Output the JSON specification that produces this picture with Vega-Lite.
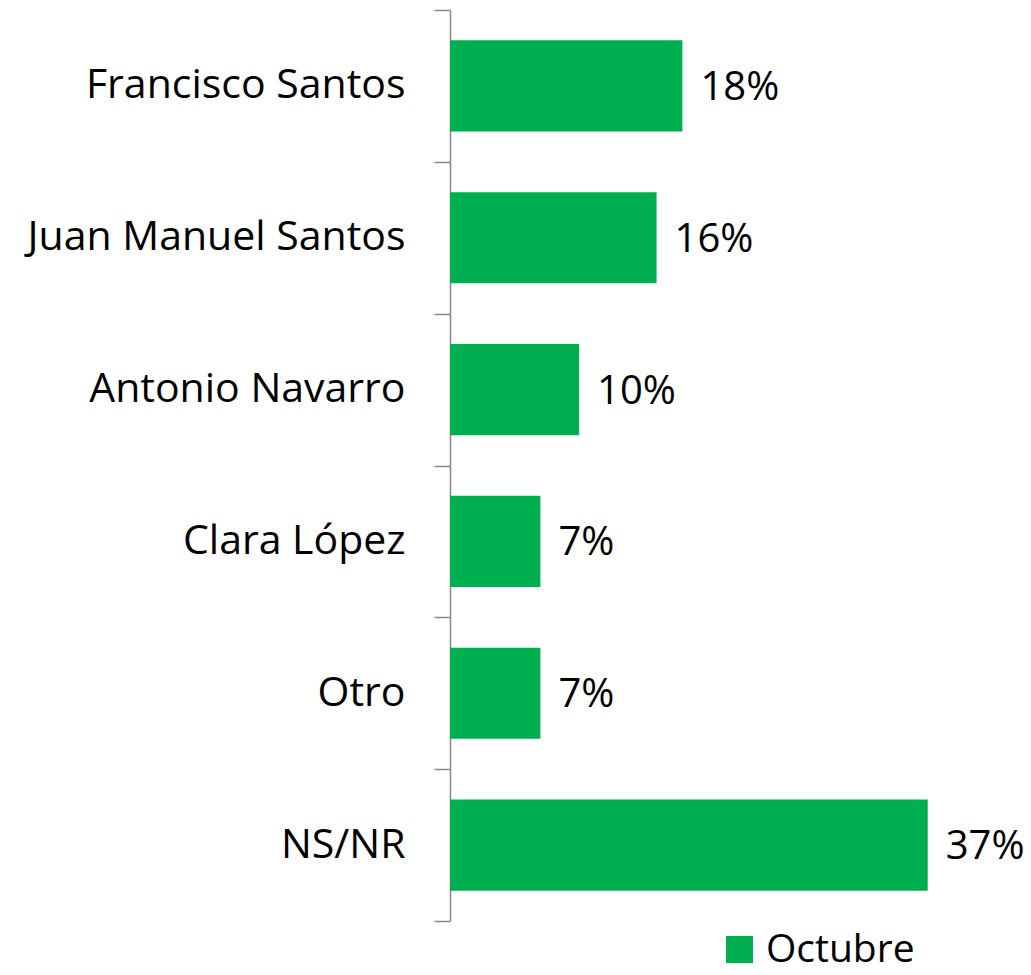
{
  "$schema": "https://vega.github.io/schema/vega-lite/v6.json",
  "width": 581,
  "height": 911,
  "autosize": {"type": "none"},
  "padding": {"left": 450, "top": 10, "right": 0, "bottom": 54},
  "background": "white",
  "config": {"view": {"stroke": null}, "font": "Open Sans"},
  "data": {
    "values": [
      {"candidato": "Francisco Santos", "pct": 0.18, "serie": "Octubre"},
      {"candidato": "Juan Manuel Santos", "pct": 0.16, "serie": "Octubre"},
      {"candidato": "Antonio Navarro", "pct": 0.10, "serie": "Octubre"},
      {"candidato": "Clara López", "pct": 0.07, "serie": "Octubre"},
      {"candidato": "Otro", "pct": 0.07, "serie": "Octubre"},
      {"candidato": "NS/NR", "pct": 0.37, "serie": "Octubre"}
    ]
  },
  "encoding": {
    "y": {
      "field": "candidato",
      "type": "nominal",
      "sort": null,
      "scale": {"paddingInner": 0, "paddingOuter": 0},
      "axis": {
        "title": null,
        "domainColor": "#898989",
        "domainWidth": 1.5,
        "tickColor": "#898989",
        "tickSize": 16,
        "tickWidth": 1.5,
        "tickBand": "extent",
        "labelFontSize": 41,
        "labelColor": "black",
        "labelPadding": 29,
        "labelLimit": 0,
        "grid": false
      }
    },
    "x": {
      "field": "pct",
      "type": "quantitative",
      "scale": {"domain": [0, 0.45]},
      "axis": null
    }
  },
  "layer": [
    {
      "mark": {"type": "bar", "height": {"band": 0.6}},
      "encoding": {
        "color": {
          "field": "serie",
          "type": "nominal",
          "scale": {"range": ["#00B050"]},
          "legend": {
            "orient": "none",
            "legendX": 270,
            "legendY": 920,
            "title": null,
            "symbolType": "square",
            "symbolSize": 729,
            "symbolOpacity": 1,
            "symbolStrokeWidth": 0,
            "labelFontSize": 39,
            "labelColor": "black",
            "labelOffset": 7
          }
        }
      }
    },
    {
      "mark": {"type": "text", "align": "left", "baseline": "middle", "dx": 18, "dy": 2, "fontSize": 40, "color": "black"},
      "encoding": {"text": {"field": "pct", "type": "quantitative", "format": ".0%"}}
    }
  ]
}
